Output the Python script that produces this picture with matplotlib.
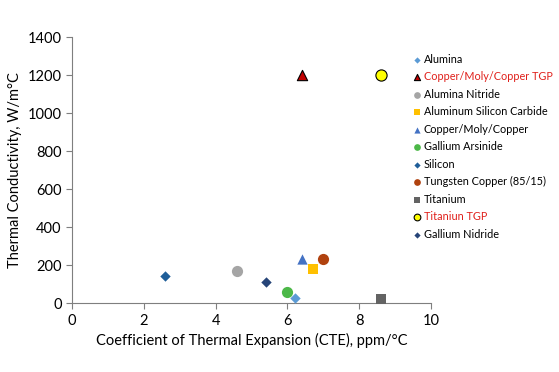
import numpy as np
import matplotlib
matplotlib.use('Agg')
import matplotlib.pyplot as plt

# Data
names = ['Alumina', 'Copper/Moly/Copper TGP', 'Alumina Nitride',
         'Aluminum Silicon Carbide', 'Copper/Moly/Copper', 'Gallium Arsinide',
         'Silicon', 'Tungsten Copper (85/15)', 'Titanium', 'Titaniun TGP',
         'Gallium Nidride']
cte = [6.2, 6.4, 4.6, 6.7, 6.4, 6.0, 2.6, 7.0, 8.6, 8.6, 5.4]
conductivity = [25, 1200, 170, 180, 230, 60, 145, 230, 22, 1200, 110]

markers = ['D', '^', 'o', 's', '^', 'o', 'D', 'o', 's', 'o', 'D']
sizes = [28, 55, 65, 55, 55, 65, 28, 65, 55, 65, 28]
colors = ['#5B9BD5', '#C00000', '#A5A5A5', '#FFC000', '#4472C4', '#4CB848',
          '#1F5E99', '#B0420F', '#636363', '#FFFF00', '#264478']
edges = [None, 'black', None, None, None, None, None, None, None, 'black', None]
label_colors = ['black', '#E0201B', 'black', 'black', 'black', 'black',
                'black', 'black', 'black', '#E0201B', 'black']

plt.rcParams['font.family'] = ['Lato', 'DejaVu Sans']

fig = plt.figure(figsize=(5.59, 3.72), dpi=100)
ax = fig.add_axes([0.129, 0.185, 0.642, 0.715])

for i in range(len(names)):
    ax.scatter(cte[i], conductivity[i], marker=markers[i], s=sizes[i],
               color=colors[i],
               edgecolors=edges[i] if edges[i] else colors[i],
               linewidths=0.8 if edges[i] else 0, label=names[i], zorder=3)

ax.set_xlim(0, 10)
ax.set_ylim(0, 1400)
ax.set_xticks(np.arange(0, 11, 2))
ax.set_yticks(np.arange(0, 1401, 200))
ax.tick_params(labelsize=10.5, color='#7f7f7f', length=4, direction='out')
for s in ['top', 'right']:
    ax.spines[s].set_visible(False)
for s in ['left', 'bottom']:
    ax.spines[s].set_color('#7f7f7f')

ax.set_xlabel('Coefficient of Thermal Expansion (CTE), ppm/°C', fontsize=10.5)
ax.set_ylabel('Thermal Conductivity, W/m°C', fontsize=10.5)

leg = ax.legend(loc='upper left', bbox_to_anchor=(0.935, 0.955), frameon=False,
                fontsize=7.8, handletextpad=0.1, labelspacing=0.6,
                markerscale=0.6, handlelength=1.0, borderaxespad=0)
for t, c in zip(leg.get_texts(), label_colors):
    t.set_color(c)

fig.savefig('out.png', dpi=100)
